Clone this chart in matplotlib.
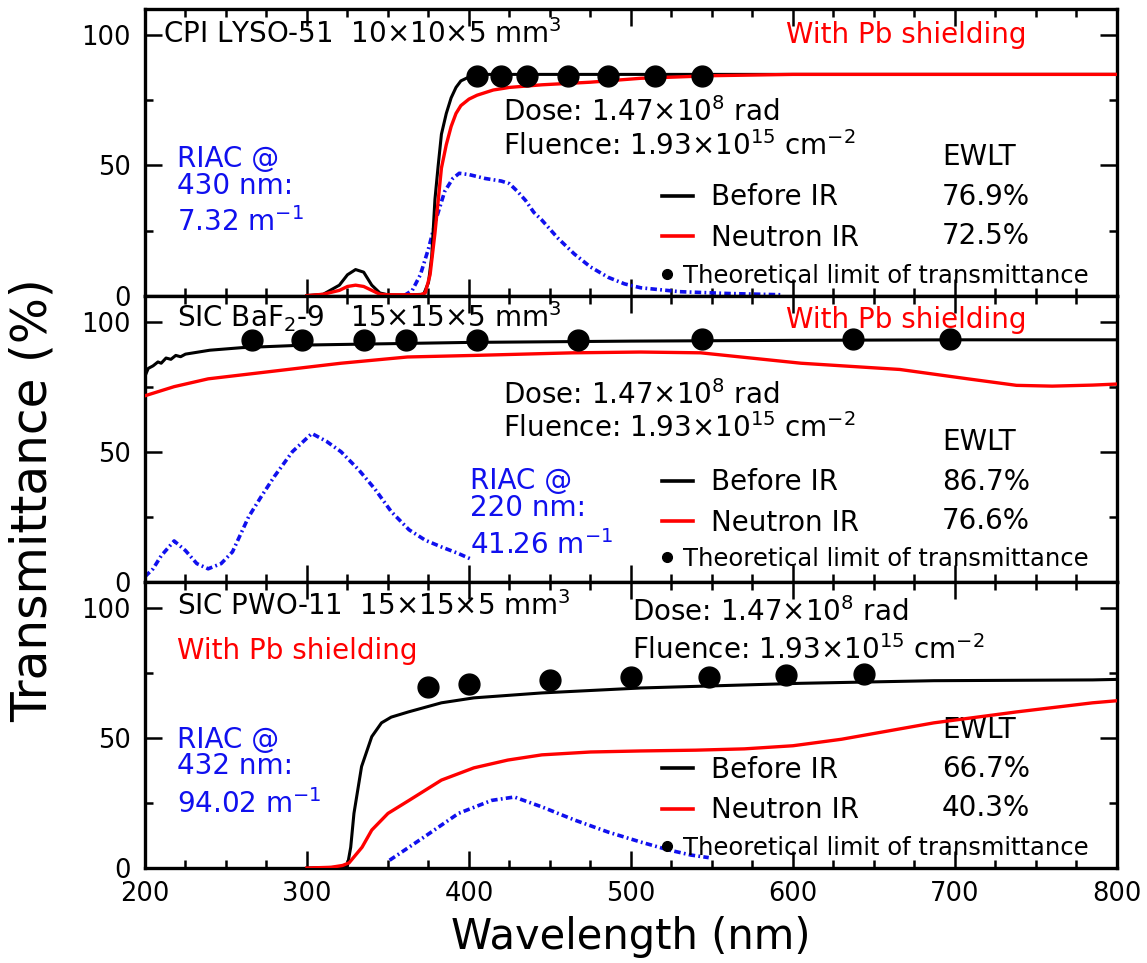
import matplotlib
matplotlib.use("Agg")
import matplotlib.pyplot as plt
from matplotlib.lines import Line2D
from matplotlib.ticker import MultipleLocator

plt.rcParams['font.family'] = ['DejaVu Sans']
plt.rcParams['mathtext.fontset'] = 'dejavusans'
plt.rcParams['mathtext.default'] = 'regular'

# ---------------- data ----------------
# Panel 1: CPI LYSO-51
lyso_wl_before = [300, 310, 320, 325, 330, 335, 340, 345, 350, 360, 372, 375, 377, 379, 381, 383, 386, 389, 392, 395, 400, 410, 450, 500, 600, 700, 800]
lyso_before = [0, 0.5, 4, 8, 10, 9, 4, 1, 0.3, 0.2, 0.5, 5, 15, 37, 50, 62, 70, 76, 80, 82.5, 84, 85, 85, 85, 85, 85, 85]
lyso_wl_after = [300, 310, 320, 325, 330, 335, 340, 345, 350, 370, 373, 376, 379, 383, 386, 389, 392, 395, 400, 405, 415, 425, 445, 475, 506, 550, 600, 700, 800]
lyso_after = [0, 0.5, 2, 3.5, 4, 3.5, 2, 0.5, 0.3, 0.3, 1, 8, 24, 49, 58, 65, 70, 73, 75.5, 77, 79, 80, 81, 82, 83.5, 84.5, 85, 85, 85]
lyso_wl_riac = [360, 365, 370, 375, 380, 385, 390, 394, 400, 410, 420, 425, 430, 435, 440, 445, 455, 465, 475, 486, 496, 506, 530, 560, 594]
lyso_riac = [0, 2, 8, 18, 30, 40, 45, 47, 46.5, 45, 44, 43, 40, 36.5, 32, 29, 22, 16, 11, 7, 4.5, 3, 1.5, 0.8, 0.3]
lyso_wl_limit = [405, 420, 436, 461, 486, 515, 544]
lyso_limit = [84.2, 84.2, 84.2, 84.2, 84.2, 84.2, 84.2]

# Panel 2: SIC BaF2-9
baf_wl_before = [200, 202, 205, 208, 210, 213, 216, 219, 222, 225, 230, 235, 240, 250, 260, 280, 300, 350, 400, 500, 600, 700, 800]
baf_before = [79, 82, 83, 84.5, 84, 86, 85.5, 87, 86.5, 87.5, 88, 88.5, 89, 89.5, 90, 90.5, 91, 91.5, 92, 92.5, 92.8, 93, 93]
baf_wl_after = [200, 218, 239, 280, 321, 362, 403, 464, 506, 543, 574, 605, 666, 708, 738, 760, 785, 800]
baf_after = [71.5, 75, 78, 81, 84, 86.4, 87, 88, 88.3, 88, 86, 84, 81.6, 78, 75.5, 75.2, 75.6, 76]
baf_wl_riac = [200, 205, 210, 218, 225, 232, 239, 247, 254, 264, 272, 280, 291, 303, 312, 321, 332, 342, 352, 363, 373, 383, 393, 401]
baf_riac = [2, 5, 10, 15.7, 12, 7, 5, 7, 11.5, 25, 33, 40.6, 50, 57, 54, 50, 43, 35.6, 27, 20, 16, 13.4, 11, 8.8]
baf_wl_limit = [266, 297, 335, 361, 405, 467, 544, 637, 697]
baf_limit = [92.8, 92.8, 92.8, 92.8, 92.8, 92.8, 93.2, 93.2, 93.2]

# Panel 3: SIC PWO-11
pwo_wl_before = [300, 320, 325, 327, 329, 333.7, 340, 346, 352, 362.6, 383, 403, 445, 506, 550, 605, 687, 785, 800]
pwo_before = [0, 0.3, 1, 8, 21, 39, 50.5, 55.8, 58, 60, 63.5, 65.4, 67.3, 69.2, 70, 71, 72, 72.3, 72.5]
pwo_wl_after = [300, 315, 322, 326, 334, 340, 350, 363, 383, 403, 424, 445, 475, 506, 540, 570, 600, 630, 687, 738, 785, 800]
pwo_after = [0, 0.3, 1, 2, 8, 14.6, 21, 26, 33.8, 38.5, 41.5, 43.5, 44.6, 45, 45.3, 45.8, 47, 49.5, 55.8, 60, 63.5, 64.3]
pwo_wl_riac = [351, 372.5, 393.5, 414, 428, 445, 465, 486, 506, 523, 537, 548]
pwo_riac = [3, 12, 21, 26, 27.3, 23.5, 18.5, 13.8, 10, 7, 5, 4]
pwo_wl_limit = [375, 400, 450, 500, 548, 596, 644]
pwo_limit = [69.7, 70.8, 72.3, 73.3, 73.6, 74.2, 74.4]

ewlt_before = ["76.9%", "86.7%", "66.7%"]
ewlt_after = ["72.5%", "76.6%", "40.3%"]
titles = ["CPI LYSO-51  10×10×5 mm$^{3}$", "SIC BaF$_{2}$-9   15×15×5 mm$^{3}$", "SIC PWO-11  15×15×5 mm$^{3}$"]
riac_texts = [["RIAC @", "430 nm:", "7.32 m$^{-1}$"],
              ["RIAC @", "220 nm:", "41.26 m$^{-1}$"],
              ["RIAC @", "432 nm:", "94.02 m$^{-1}$"]]
dose_text = "Dose: 1.47×10$^{8}$ rad"
fluence_text = "Fluence: 1.93×10$^{15}$ cm$^{-2}$"
legend_labels = ["Before IR", "Neutron IR", "Theoretical limit of transmittance"]
xticks = [200, 300, 400, 500, 600, 700, 800]
yticks = [0, 50, 100]

panels = [
    (lyso_wl_before, lyso_before, lyso_wl_after, lyso_after, lyso_wl_riac, lyso_riac, lyso_wl_limit, lyso_limit),
    (baf_wl_before, baf_before, baf_wl_after, baf_after, baf_wl_riac, baf_riac, baf_wl_limit, baf_limit),
    (pwo_wl_before, pwo_before, pwo_wl_after, pwo_after, pwo_wl_riac, pwo_riac, pwo_wl_limit, pwo_limit),
]

# ---------------- layout / styles ----------------
FS = 20
blue = '#1010ee'
red = '#ff0000'

# text positions (data coords: nm, %)
layout = [
    dict(title=(211, 97), pb=(596, 97), dose=(421, 67), flu=(421, 54.2), ewlt=(692, 50),
         rows=(35, 20), riac=(220, (49.6, 39.2, 25)), leg_y=0.392, leg2_y=0.112),
    dict(title=(220, 97.7), pb=(596, 97.7), dose=(421, 68.5), flu=(421, 55.8), ewlt=(692, 50.8),
         rows=(35.4, 20.4), riac=(400.6, (35.8, 25.4, 10.8)), leg_y=0.396, leg2_y=0.122),
    dict(title=(220, 97.3), pb=(220, 80.3), dose=(500.6, 95), flu=(500.6, 80.3), ewlt=(692, 50),
         rows=(35, 20), riac=(220, (46.3, 36, 21.2)), leg_y=0.392, leg2_y=0.112),
]

fig, axes = plt.subplots(3, 1, figsize=(11.47, 9.63), dpi=100, sharex=True,
                         gridspec_kw=dict(hspace=0))
fig.subplots_adjust(left=0.1264, right=0.9738, top=0.9903, bottom=0.0986)

for i, ax in enumerate(axes):
    wb, vb, wa, va, wr, vr, wl, vl = panels[i]
    L = layout[i]
    ax.plot(wr, vr, color=blue, lw=2.6, linestyle=(0, (1.8, 0.9, 0.5, 0.9)), zorder=2)
    ax.plot(wb, vb, color='black', lw=2.2, zorder=3)
    ax.plot(wa, va, color=red, lw=2.4, zorder=4)
    ax.plot(wl, vl, 'o', color='black', ms=15, zorder=5)

    ax.set_xlim(200, 800)
    ax.set_ylim(0, 110)
    ax.set_xticks(xticks)
    ax.set_yticks(yticks)
    ax.xaxis.set_minor_locator(MultipleLocator(25))
    ax.yaxis.set_minor_locator(MultipleLocator(25))
    ax.tick_params(which='both', direction='in', top=True, right=True, width=1.8)
    ax.tick_params(which='major', length=12, labelsize=18.5)
    ax.tick_params(which='minor', length=6)
    ax.tick_params(axis='y', pad=10)
    ax.tick_params(axis='x', pad=9)
    for s in ax.spines.values():
        s.set_linewidth(2.4)

    ax.text(*L['title'], titles[i], fontsize=FS, color='black', va='baseline', ha='left')
    ax.text(*L['pb'], "With Pb shielding", fontsize=FS, color=red, va='baseline', ha='left')
    ax.text(*L['dose'], dose_text, fontsize=FS, va='baseline', ha='left')
    ax.text(*L['flu'], fluence_text, fontsize=FS, va='baseline', ha='left')
    ax.text(*L['ewlt'], "EWLT", fontsize=FS, va='baseline', ha='left')
    r1, r2 = L['rows']
    ax.text(692, r1, ewlt_before[i], fontsize=FS, va='baseline', ha='left')
    ax.text(692, r2, ewlt_after[i], fontsize=FS, va='baseline', ha='left')
    rx, rys = L['riac']
    for t, yy in zip(riac_texts[i], rys):
        ax.text(rx, yy, t, fontsize=FS, color=blue, va='baseline', ha='left')

    h1 = [Line2D([], [], color='black', lw=2.6), Line2D([], [], color=red, lw=2.6)]
    leg1 = ax.legend(h1, legend_labels[:2], loc='upper left', bbox_to_anchor=(0.532, L['leg_y']),
                     frameon=False, fontsize=FS, handlelength=1.1, handletextpad=0.65,
                     labelspacing=0.45, borderpad=0, borderaxespad=0)
    ax.add_artist(leg1)
    h2 = [Line2D([], [], color='black', marker='o', ls='none', ms=7)]
    ax.legend(h2, legend_labels[2:], loc='upper left', bbox_to_anchor=(0.530, L['leg2_y']),
              frameon=False, fontsize=17.5, handlelength=0.55, handletextpad=0.4,
              borderpad=0, borderaxespad=0)

for ax in axes[:-1]:
    ax.tick_params(axis='x', labelbottom=False)

fig.text(33 / 1147, 1 - 500 / 963, "Transmittance (%)", rotation=90, fontsize=35,
         ha='center', va='center')
fig.text(631 / 1147, 1 - 937 / 963, "Wavelength (nm)", fontsize=30, ha='center', va='center')

fig.savefig("out.png", dpi=100)
